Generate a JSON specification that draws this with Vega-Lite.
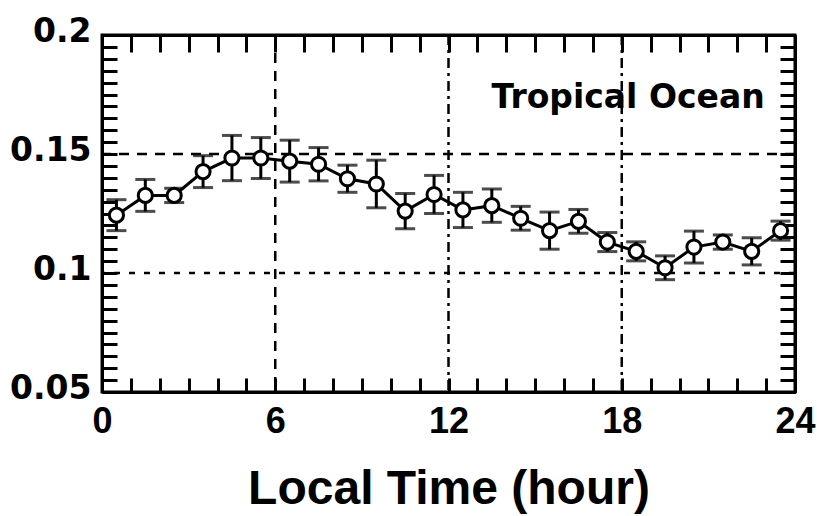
{
  "$schema": "https://vega.github.io/schema/vega-lite/v6.json",
  "width": 693,
  "height": 357,
  "autosize": "none",
  "padding": {"left": 102, "top": 35, "right": 22, "bottom": 124},
  "background": "white",
  "config": {
    "view": {"stroke": "black", "strokeWidth": 3},
    "font": "Liberation Sans",
    "axis": {"labelFont": "Liberation Sans", "labelFontWeight": "bold", "labelColor": "black", "titleFont": "Liberation Sans", "titleFontWeight": "bold", "titleColor": "black", "domainColor": "black", "domainWidth": 3, "tickColor": "black", "tickWidth": 3, "grid": false}
  },
  "datasets": {
    "main": [
      {"hour": 0.5, "value": 0.1243, "lo": 0.1178, "hi": 0.1308},
      {"hour": 1.5, "value": 0.1326, "lo": 0.1259, "hi": 0.1393},
      {"hour": 2.5, "value": 0.1326, "lo": 0.1296, "hi": 0.1356},
      {"hour": 3.5, "value": 0.1426, "lo": 0.1359, "hi": 0.1493},
      {"hour": 4.5, "value": 0.1483, "lo": 0.1388, "hi": 0.1578},
      {"hour": 5.5, "value": 0.1483, "lo": 0.1397, "hi": 0.1569},
      {"hour": 6.5, "value": 0.147, "lo": 0.1382, "hi": 0.1558},
      {"hour": 7.5, "value": 0.1457, "lo": 0.1387, "hi": 0.1527},
      {"hour": 8.5, "value": 0.1396, "lo": 0.1339, "hi": 0.1453},
      {"hour": 9.5, "value": 0.1374, "lo": 0.1274, "hi": 0.1474},
      {"hour": 10.5, "value": 0.126, "lo": 0.1186, "hi": 0.1334},
      {"hour": 11.5, "value": 0.133, "lo": 0.125, "hi": 0.141},
      {"hour": 12.5, "value": 0.1265, "lo": 0.1191, "hi": 0.1339},
      {"hour": 13.5, "value": 0.1283, "lo": 0.1213, "hi": 0.1353},
      {"hour": 14.5, "value": 0.123, "lo": 0.118, "hi": 0.128},
      {"hour": 15.5, "value": 0.1178, "lo": 0.11, "hi": 0.1256},
      {"hour": 16.5, "value": 0.1217, "lo": 0.1167, "hi": 0.1267},
      {"hour": 17.5, "value": 0.113, "lo": 0.109, "hi": 0.117},
      {"hour": 18.5, "value": 0.1091, "lo": 0.1051, "hi": 0.1131},
      {"hour": 19.5, "value": 0.1022, "lo": 0.0972, "hi": 0.1072},
      {"hour": 20.5, "value": 0.1109, "lo": 0.1042, "hi": 0.1176},
      {"hour": 21.5, "value": 0.113, "lo": 0.11, "hi": 0.116},
      {"hour": 22.5, "value": 0.1091, "lo": 0.1034, "hi": 0.1148},
      {"hour": 23.5, "value": 0.1178, "lo": 0.1138, "hi": 0.1218}
    ],
    "vgridA": [{"h": 6}],
    "vgridB": [{"h": 12}, {"h": 18}],
    "hgridA": [{"v": 0.15}],
    "hgridB": [{"v": 0.1}],
    "label": [{"hour": 22.95, "value": 0.1735, "text": "Tropical Ocean"}]
  },
  "resolve": {"axis": {"x": "independent", "y": "independent"}},
  "layer": [
    {
      "data": {"name": "vgridA"},
      "mark": {"type": "rule", "color": "black", "strokeWidth": 2.5, "strokeDash": [10, 8]},
      "encoding": {
        "x": {"field": "h", "type": "quantitative", "scale": {"domain": [0, 24], "nice": false, "zero": false}, "axis": null}
      }
    },
    {
      "data": {"name": "vgridB"},
      "mark": {"type": "rule", "color": "black", "strokeWidth": 2.5, "strokeDash": [10, 5, 3, 5]},
      "encoding": {
        "x": {"field": "h", "type": "quantitative", "scale": {"domain": [0, 24], "nice": false, "zero": false}, "axis": null}
      }
    },
    {
      "data": {"name": "hgridA"},
      "mark": {"type": "rule", "color": "black", "strokeWidth": 2.5, "strokeDash": [10, 8]},
      "encoding": {
        "y": {"field": "v", "type": "quantitative", "scale": {"domain": [0.05, 0.2], "nice": false, "zero": false}, "axis": null}
      }
    },
    {
      "data": {"name": "hgridB"},
      "mark": {"type": "rule", "color": "black", "strokeWidth": 2.5, "strokeDash": [6, 9]},
      "encoding": {
        "y": {"field": "v", "type": "quantitative", "scale": {"domain": [0.05, 0.2], "nice": false, "zero": false}, "axis": null}
      }
    },
    {
      "data": {"name": "main"},
      "mark": {"type": "errorbar", "ticks": {"size": 20, "thickness": 3, "color": "black"}, "rule": {"strokeWidth": 3, "color": "black"}},
      "encoding": {
        "x": {"field": "hour", "type": "quantitative", "scale": {"domain": [0, 24], "nice": false, "zero": false},
          "axis": {"orient": "bottom", "values": [0,1,2,3,4,5,6,7,8,9,10,11,12,13,14,15,16,17,18,19,20,21,22,23,24], "labelExpr": "datum.value % 6 == 0 ? datum.label : ''", "tickSize": -14, "labelPadding": 26, "labelFontSize": 36, "labelFlush": false, "labelOverlap": false, "title": "Local Time (hour)", "titleFontSize": 48, "titlePadding": 26}},
        "y": {"field": "lo", "type": "quantitative", "scale": {"domain": [0.05, 0.2], "nice": false, "zero": false},
          "axis": {"orient": "left", "values": [0.05,0.055,0.06,0.065,0.07,0.075,0.08,0.085,0.09,0.095,0.1,0.105,0.11,0.115,0.12,0.125,0.13,0.135,0.14,0.145,0.15,0.155,0.16,0.165,0.17,0.175,0.18,0.185,0.19,0.195,0.2], "labelExpr": "abs(datum.value*20 - round(datum.value*20)) < 0.001 ? format(datum.value, '~g') : ''", "tickSize": -15, "labelPadding": 26, "labelOffset": -4, "labelFont": "DejaVu Sans", "labelFontSize": 33, "labelFlush": false, "labelOverlap": false, "title": null}},
        "y2": {"field": "hi"}
      }
    },
    {
      "data": {"name": "main"},
      "mark": {"type": "line", "color": "black", "strokeWidth": 3},
      "encoding": {
        "x": {"field": "hour", "type": "quantitative", "scale": {"domain": [0, 24], "nice": false, "zero": false},
          "axis": {"orient": "top", "values": [0,1,2,3,4,5,6,7,8,9,10,11,12,13,14,15,16,17,18,19,20,21,22,23,24], "labels": false, "tickSize": -17, "title": null}},
        "y": {"field": "value", "type": "quantitative", "scale": {"domain": [0.05, 0.2], "nice": false, "zero": false},
          "axis": {"orient": "right", "values": [0.05,0.055,0.06,0.065,0.07,0.075,0.08,0.085,0.09,0.095,0.1,0.105,0.11,0.115,0.12,0.125,0.13,0.135,0.14,0.145,0.15,0.155,0.16,0.165,0.17,0.175,0.18,0.185,0.19,0.195,0.2], "labels": false, "tickSize": -15, "title": null}}
      }
    },
    {
      "data": {"name": "main"},
      "mark": {"type": "point", "shape": "circle", "filled": false, "fill": "white", "fillOpacity": 1, "stroke": "black", "strokeWidth": 3, "size": 200, "opacity": 1},
      "encoding": {
        "x": {"field": "hour", "type": "quantitative", "scale": {"domain": [0, 24], "nice": false, "zero": false}, "axis": null},
        "y": {"field": "value", "type": "quantitative", "scale": {"domain": [0.05, 0.2], "nice": false, "zero": false}, "axis": null}
      }
    },
    {
      "data": {"name": "label"},
      "mark": {"type": "text", "align": "right", "baseline": "middle", "font": "DejaVu Sans", "fontWeight": "bold", "fontSize": 33, "color": "black"},
      "encoding": {
        "x": {"field": "hour", "type": "quantitative", "scale": {"domain": [0, 24], "nice": false, "zero": false}, "axis": null},
        "y": {"field": "value", "type": "quantitative", "scale": {"domain": [0.05, 0.2], "nice": false, "zero": false}, "axis": null},
        "text": {"field": "text"}
      }
    }
  ]
}
